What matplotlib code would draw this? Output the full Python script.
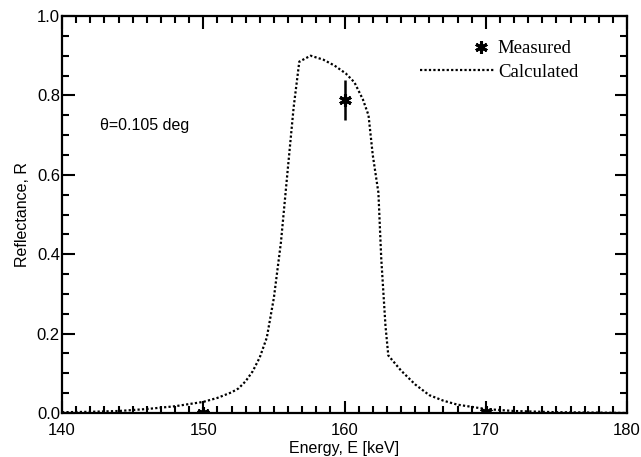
import matplotlib
matplotlib.use("Agg")
import matplotlib.pyplot as plt
from matplotlib.ticker import MultipleLocator
from matplotlib.legend_handler import HandlerLine2D

# Calculated curve
calc_E = [140, 142, 144, 146, 148, 150, 151, 152, 152.5, 153, 153.5, 154, 154.5, 155,
          155.5, 156, 156.4, 156.8, 157.6, 158.5, 159.3, 160.1, 160.7, 161.3, 161.7,
          162.0, 162.4, 162.6, 162.9, 163.1, 164, 165, 166, 167, 168, 170, 172, 175, 178, 180]
calc_R = [0.002, 0.003, 0.005, 0.010, 0.017, 0.028, 0.038, 0.052, 0.062, 0.080, 0.105,
          0.140, 0.190, 0.290, 0.430, 0.620, 0.770, 0.885, 0.900, 0.890, 0.875, 0.855,
          0.833, 0.790, 0.750, 0.650, 0.555, 0.390, 0.220, 0.145, 0.107, 0.072, 0.045,
          0.031, 0.021, 0.010, 0.005, 0.002, 0.001, 0.0]

# Measured points
meas_E = [150, 160, 170]
meas_R = [0.0, 0.788, 0.003]
meas_err = [0.0, 0.05, 0.0]


class RightMarkerHandler(HandlerLine2D):
    """Place the single legend marker near the right end of the handle box."""
    def get_xdata(self, legend, xdescent, ydescent, width, height, fontsize):
        m = -xdescent + width - 0.75 * fontsize
        return [m - 1, m + 1], [m]


fig = plt.figure(figsize=(6.41, 4.57), dpi=100)
ax = fig.add_axes([62/641, 1-413/457, (627-62)/641, (413-16)/457])

calc_line, = ax.plot(calc_E, calc_R, color='black', linestyle=(0, (1, 1)),
                     linewidth=1.6, label='Calculated')
ax.errorbar(meas_E, meas_R, yerr=meas_err, fmt='none', ecolor='black',
            elinewidth=1.8, capsize=0)
meas_line, = ax.plot(meas_E, meas_R, linestyle='none', marker=(6, 2, 0), markersize=9,
                     markeredgewidth=2.2, color='black', label='Measured')

ax.set_xlim(140, 180)
ax.set_ylim(0, 1.0)
ax.xaxis.set_major_locator(MultipleLocator(10))
ax.xaxis.set_minor_locator(MultipleLocator(1))
ax.yaxis.set_minor_locator(MultipleLocator(0.05))
ax.set_yticks([0, 0.2, 0.4, 0.6, 0.8, 1.0])
ax.set_yticklabels(['0.0', '0.2', '0.4', '0.6', '0.8', '1.0'])

ax.tick_params(which='both', direction='in', top=True, right=True, width=1.5,
               labelsize=12)
ax.tick_params(axis='x', which='both', pad=7)
ax.tick_params(axis='y', which='both', pad=1.5)
ax.tick_params(which='major', length=9)
ax.tick_params(which='minor', length=5)
for lab in ax.get_xticklabels() + ax.get_yticklabels():
    lab.set_fontfamily('Liberation Sans')
for s in ax.spines.values():
    s.set_linewidth(1.6)

ax.set_xlabel('Energy, E [keV]', fontsize=11.5, fontfamily='Liberation Sans', labelpad=2)
ax.set_ylabel('Reflectance, R', fontsize=11.5, fontfamily='Liberation Sans', labelpad=5)

ax.text(142.7, 0.724, '\u03b8=0.105 deg', fontsize=11.5, fontfamily='Liberation Sans',
        va='center', ha='left')

leg = ax.legend([meas_line, calc_line], ['Measured', 'Calculated'],
                loc='upper left', bbox_to_anchor=((420-62)/565, (413-40)/397),
                frameon=False, prop={'family': 'Liberation Serif', 'size': 13.5},
                handlelength=4.0, handletextpad=0.15, borderaxespad=0, borderpad=0,
                labelspacing=0.35, numpoints=1,
                handler_map={meas_line: RightMarkerHandler()})

fig.savefig('out.png', dpi=100)
